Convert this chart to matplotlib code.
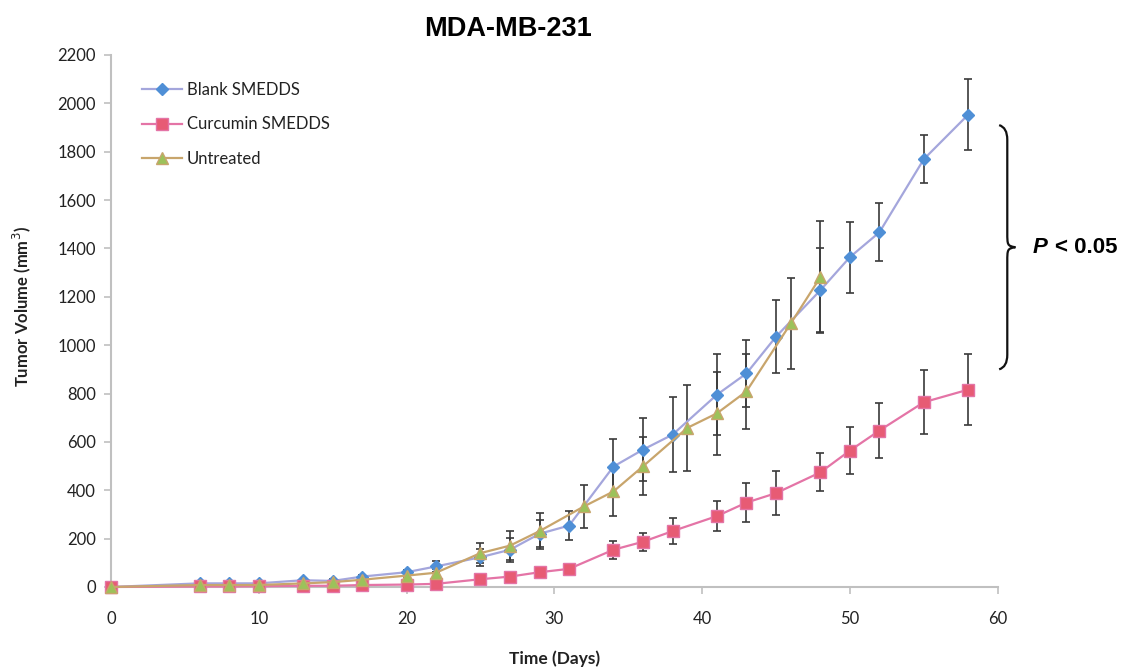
import matplotlib
matplotlib.use("Agg")
import matplotlib.pyplot as plt
from matplotlib.path import Path
from matplotlib.patches import PathPatch

# days of measurement
days = [0, 6, 8, 10, 13, 15, 17, 20, 22, 25, 27, 29, 31, 34, 36, 38, 41, 43,
        45, 48, 50, 52, 55, 58]
days_untreated = [0, 6, 8, 10, 13, 15, 17, 20, 22, 25, 27, 29, 32, 34, 36,
                  39, 41, 43, 46, 48]

blank = [0, 15, 15, 15, 28, 25, 43, 61, 85, 123, 154, 220, 254, 498, 568, 630,
         795, 883, 1035, 1227, 1364, 1467, 1769, 1953]
blank_err = [0, 4, 4, 4, 6, 6, 8, 10, 22, 35, 50, 55, 59, 114, 130, 155, 168,
             140, 151, 174, 147, 120, 100, 147]

curcumin = [0, 2, 2, 3, 5, 5, 8, 10, 13, 32, 43, 61, 75, 154, 187, 231, 293,
            349, 388, 474, 564, 647, 764, 816]
curcumin_err = [0, 2, 2, 2, 3, 3, 4, 4, 5, 8, 10, 12, 14, 38, 38, 54, 62, 79,
                90, 78, 97, 113, 133, 147]

untreated = [0, 8, 8, 8, 15, 20, 30, 47, 59, 140, 171, 231, 333, 395, 499,
             658, 718, 809, 1090, 1281]
untreated_err = [0, 3, 3, 3, 5, 5, 7, 9, 14, 42, 60, 74, 90, 100, 120, 178,
                 172, 155, 188, 231]

tick_font = "Lato"
label_font = "Lato"

fig = plt.figure(figsize=(11.22, 6.69), dpi=100)
ax = fig.add_axes([0.0989, 0.1226, 0.7903, 0.7952])

series = [
    (days, blank, blank_err, "Blank SMEDDS", "D", 6, "#A4A6DC", "#4F8FD6", "#4F8FD6"),
    (days, curcumin, curcumin_err, "Curcumin SMEDDS", "s", 9, "#E474A6", "#E75B74", "#E474A6"),
    (days_untreated, untreated, untreated_err, "Untreated", "^", 8.5, "#C8A56C", "#9CC25A", "#C8A56C"),
]

for x, y, err, name, mk, ms, lc, fc, ec in series:
    ax.errorbar(x, y, yerr=err, fmt="none", ecolor="#3a3a3a", elinewidth=1.2,
                capsize=3.2, capthick=1.2, zorder=2)

for x, y, err, name, mk, ms, lc, fc, ec in series:
    ax.plot(x, y, color=lc, lw=1.6, marker=mk, markersize=ms,
            markerfacecolor=fc, markeredgecolor=ec, markeredgewidth=1.0,
            label=name, zorder=3, clip_on=False)

ax.set_xlim(0, 60)
ax.set_ylim(0, 2200)
ax.set_xticks(range(0, 61, 10))
ax.set_yticks(range(0, 2201, 200))

for s in ["top", "right"]:
    ax.spines[s].set_visible(False)
for s in ["left", "bottom"]:
    ax.spines[s].set_color("#C0C0C0")
    ax.spines[s].set_linewidth(1.5)
ax.tick_params(axis="both", direction="out", length=5, width=1.2,
               color="#C0C0C0", labelsize=12, labelcolor="#222222", pad=6)
for lab in ax.get_xticklabels() + ax.get_yticklabels():
    lab.set_family(tick_font)
ax.tick_params(axis="x", pad=12)

ax.set_xlabel("Time (Days)", fontsize=12.5, fontweight="bold",
              family=label_font, labelpad=17, color="#222222")
ax.set_ylabel("Tumor Volume (mm$^3$)", fontsize=12, fontweight="bold",
              family=label_font, color="#222222")
ax.yaxis.set_label_coords(-0.088, 0.528)

leg = ax.legend(loc="upper left", bbox_to_anchor=(0.018, 0.978), frameon=False,
                handlelength=2.4, handletextpad=0.3, labelspacing=1.12,
                prop={"family": tick_font, "size": 12})
for t in leg.get_texts():
    t.set_color("#222222")

fig.text(0.453, 0.957, "MDA-MB-231", ha="center", va="center",
         fontsize=19.5, fontweight="bold", family="Liberation Sans")

# curly brace marking the significant difference
bx, by_top, by_bot = 60.1, 1910, 900
by_mid = (by_top + by_bot) / 2
w = 0.55
verts = [(bx, by_top), (bx + w, by_top - 10), (bx + w, by_top - 60),
         (bx + w, by_mid + 60),
         (bx + w, by_mid + 10), (bx + w, by_mid + 5), (bx + 2 * w, by_mid),
         (bx + w, by_mid - 5), (bx + w, by_mid - 10), (bx + w, by_mid - 60),
         (bx + w, by_bot + 60),
         (bx + w, by_bot + 10), (bx, by_bot)]
codes = [Path.MOVETO, Path.CURVE3, Path.CURVE3, Path.LINETO,
         Path.CURVE4, Path.CURVE4, Path.CURVE4,
         Path.CURVE4, Path.CURVE4, Path.CURVE4, Path.LINETO,
         Path.CURVE3, Path.CURVE3]
ax.add_patch(PathPatch(Path(verts, codes), fill=False, lw=1.6, color="#111111",
                       clip_on=False))

ax.annotate("P", (62.35, by_mid), fontsize=16, fontweight="bold",
            fontstyle="italic", family="Liberation Sans", va="center",
            ha="left", annotation_clip=False)
ax.annotate("< 0.05", (62.35, by_mid), xytext=(16, 0),
            textcoords="offset points", fontsize=16, fontweight="bold",
            family="Liberation Sans", va="center", ha="left",
            annotation_clip=False)

fig.savefig("out.png", dpi=100)
